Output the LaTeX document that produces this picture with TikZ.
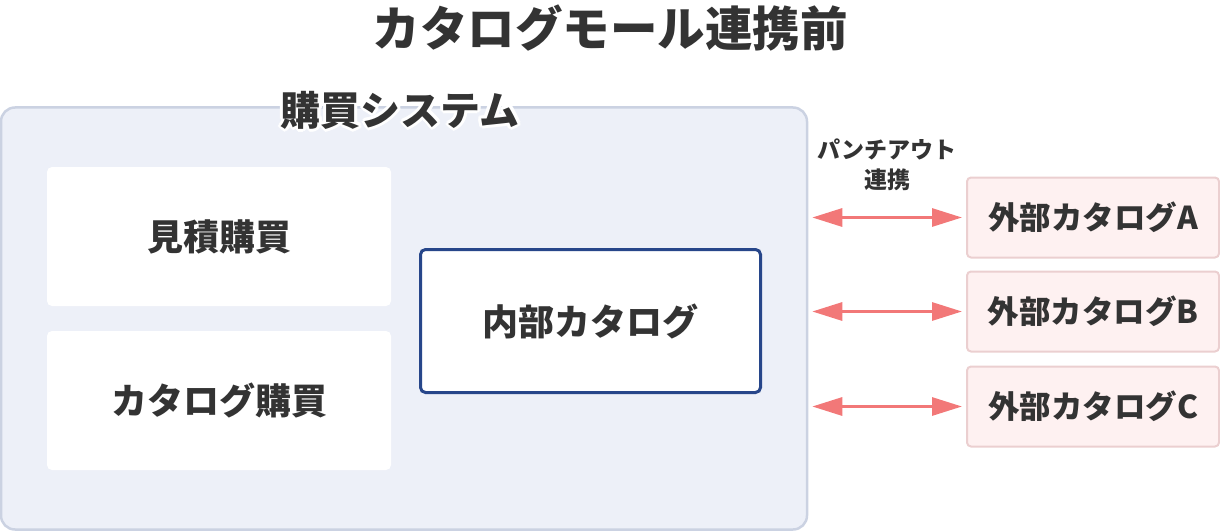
\documentclass[tikz,border=0pt]{standalone}
\usepackage{fontspec}
\setmainfont{Noto Sans CJK JP}
\usetikzlibrary{arrows.meta,positioning}

\definecolor{sysfill}{HTML}{EDF0F8}
\definecolor{sysline}{HTML}{CBD2E2}
\definecolor{catline}{HTML}{27468A}
\definecolor{extfill}{HTML}{FEF1F1}
\definecolor{extline}{HTML}{EBCFD0}
\definecolor{punch}{HTML}{F27878}
\definecolor{ink}{HTML}{333333}

\tikzset{
  every node/.style={text=ink, font=\bfseries},
  sysbox/.style={draw=sysline, line width=2.5pt, fill=sysfill, rounded corners=14pt},
  buybox/.style={fill=white, rounded corners=5pt, minimum width=344pt, minimum height=139pt, font=\bfseries\fontsize{36}{40}\selectfont},
  catbox/.style={draw=catline, line width=3pt, fill=white, rounded corners=5pt, minimum width=340pt, minimum height=143pt, font=\bfseries\fontsize{36}{40}\selectfont},
  extbox/.style={draw=extline, line width=2pt, fill=extfill, rounded corners=4pt, minimum width=252pt, minimum height=80pt, font=\bfseries\fontsize{31.5}{34}\selectfont},
  link/.style={punch, line width=3pt, {Triangle[length=30pt,width=18pt]}-{Triangle[length=30pt,width=18pt]}, shorten <=4pt, shorten >=4pt}
}

\begin{document}
\begin{tikzpicture}[x=1pt, y=-1pt]
  \useasboundingbox (0,0) rectangle (1220,532);

  % title
  \node[font=\bfseries\fontsize{47.5}{52}\selectfont] (title) at (610,28) {カタログモール連携前};

  % purchasing system
  \node[sysbox, minimum width=806pt, minimum height=422pt] (system) at (404,318.5) {};
  \foreach \a in {0,30,...,330}
    \node[text=white, font=\bfseries\fontsize{40}{44}\selectfont, shift={(\a:3pt)}] (halo-\a) at (400,110) {購買システム};
  \node[font=\bfseries\fontsize{40}{44}\selectfont] (systitle) at (400,110) {購買システム};

  \node[buybox] (estimate) at (219,236.5) {見積購買};
  \node[buybox] (catalog) at (219,400.5) {カタログ購買};
  \node[catbox] (internal) at (590.5,321) {内部カタログ};

  % external catalogs
  \foreach \l/\y in {A/217.5,B/311.5,C/406.5}
    \node[extbox] (ext-\l) at (1093,\y) {外部カタログ\l};

  \foreach \l in {A,B,C}
    \draw[link] (system.east |- ext-\l.west) -- (ext-\l.west);

  \node[font=\bfseries\fontsize{23}{30}\selectfont, align=center] (punchout) at (887,165) {パンチアウト\\連携};
\end{tikzpicture}
\end{document}
